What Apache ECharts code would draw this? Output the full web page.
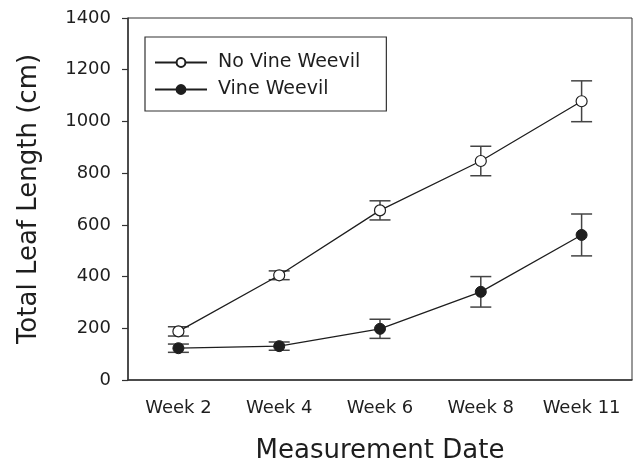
<!DOCTYPE html>
<html>
<head>
<meta charset="utf-8">
<script src="https://cdn.jsdelivr.net/npm/echarts@6/dist/echarts.min.js"></script>
<style>
html,body{margin:0;padding:0;background:#fff;}
#chart{width:634px;height:469px;}
</style>
</head>
<body>
<div id="chart"></div>
<script>
var categories = ['Week 2', 'Week 4', 'Week 6', 'Week 8', 'Week 11'];
var noWeevilMean = [188, 405, 656, 847, 1078];
var noWeevilErr = [18, 17, 37, 57, 79];
var weevilMean = [123, 131, 198, 341, 561];
var weevilErr = [16, 16, 37, 59, 81];
var yTicks = [0, 200, 400, 600, 800, 1000, 1200, 1400];

var FONT = 'DejaVu Sans';
var INK = '#1e1e1e';

function errData(mean, err) {
  return mean.map(function (m, i) { return [i, m - err[i], m + err[i]]; });
}

function errRender(params, api) {
  var x = api.value(0);
  var lo = api.coord([x, api.value(1)]);
  var hi = api.coord([x, api.value(2)]);
  var hw = 10.5;
  var st = { stroke: '#444', lineWidth: 1.5 };
  return {
    type: 'group',
    children: [
      { type: 'line', shape: { x1: lo[0], y1: lo[1], x2: hi[0], y2: hi[1] }, style: st },
      { type: 'line', shape: { x1: lo[0] - hw, y1: lo[1], x2: lo[0] + hw, y2: lo[1] }, style: st },
      { type: 'line', shape: { x1: hi[0] - hw, y1: hi[1], x2: hi[0] + hw, y2: hi[1] }, style: st }
    ]
  };
}

var chart = echarts.init(document.getElementById('chart'), null, { renderer: 'canvas' });
chart.setOption({
  animation: false,
  backgroundColor: '#fff',
  grid: { left: 128, right: 2, top: 18, bottom: 87, show: true, borderColor: '#333', borderWidth: 1 },
  legend: {
    orient: 'vertical',
    left: 145, top: 37,
    padding: [16, 26, 12, 9],
    itemGap: 8,
    itemWidth: 52,
    itemHeight: 11,
    borderColor: '#333', borderWidth: 1.2,
    textStyle: { fontFamily: FONT, fontSize: 19, color: INK, padding: [0, 0, 0, 6] },
    data: ['No Vine Weevil', 'Vine Weevil']
  },
  xAxis: {
    type: 'category',
    data: categories,
    boundaryGap: true,
    name: 'Measurement Date',
    nameLocation: 'middle',
    nameGap: 58,
    nameTextStyle: { fontFamily: FONT, fontSize: 26, color: INK },
    axisLine: { lineStyle: { color: '#333', width: 1.5 } },
    axisTick: { alignWithLabel: true, interval: 0, length: 5, lineStyle: { color: '#333', width: 1.2 } },
    axisLabel: { fontFamily: FONT, fontSize: 18, color: INK, margin: 19, interval: 0 },
    splitLine: { show: false }
  },
  yAxis: {
    type: 'value',
    min: yTicks[0], max: yTicks[yTicks.length - 1], interval: yTicks[1] - yTicks[0],
    name: 'Total Leaf Length (cm)',
    nameLocation: 'middle',
    nameGap: 86,
    nameRotate: 90,
    nameTextStyle: { fontFamily: FONT, fontSize: 26, color: INK },
    axisLine: { show: true, lineStyle: { color: '#333', width: 1.5 } },
    axisTick: { show: true, length: 6, lineStyle: { color: '#333', width: 1.2 } },
    axisLabel: { fontFamily: FONT, fontSize: 18, color: INK, margin: 17, formatter: function (v) { return String(v); } },
    splitLine: { show: false }
  },
  series: [
    {
      name: 'No Vine Weevil err', type: 'custom', renderItem: errRender,
      data: errData(noWeevilMean, noWeevilErr), z: 1, silent: true,
      encode: { x: 0, y: [1, 2] }
    },
    {
      name: 'Vine Weevil err', type: 'custom', renderItem: errRender,
      data: errData(weevilMean, weevilErr), z: 1, silent: true,
      encode: { x: 0, y: [1, 2] }
    },
    {
      name: 'No Vine Weevil', type: 'line', data: noWeevilMean, z: 3,
      symbol: 'circle', symbolSize: 11, showAllSymbol: true,
      lineStyle: { color: INK, width: 1.3 },
      itemStyle: { color: '#fff', borderColor: INK, borderWidth: 1.2 }
    },
    {
      name: 'Vine Weevil', type: 'line', data: weevilMean, z: 3,
      symbol: 'circle', symbolSize: 11, showAllSymbol: true,
      lineStyle: { color: INK, width: 1.3 },
      itemStyle: { color: INK, borderColor: INK, borderWidth: 1 }
    }
  ]
});
</script>
</body>
</html>
